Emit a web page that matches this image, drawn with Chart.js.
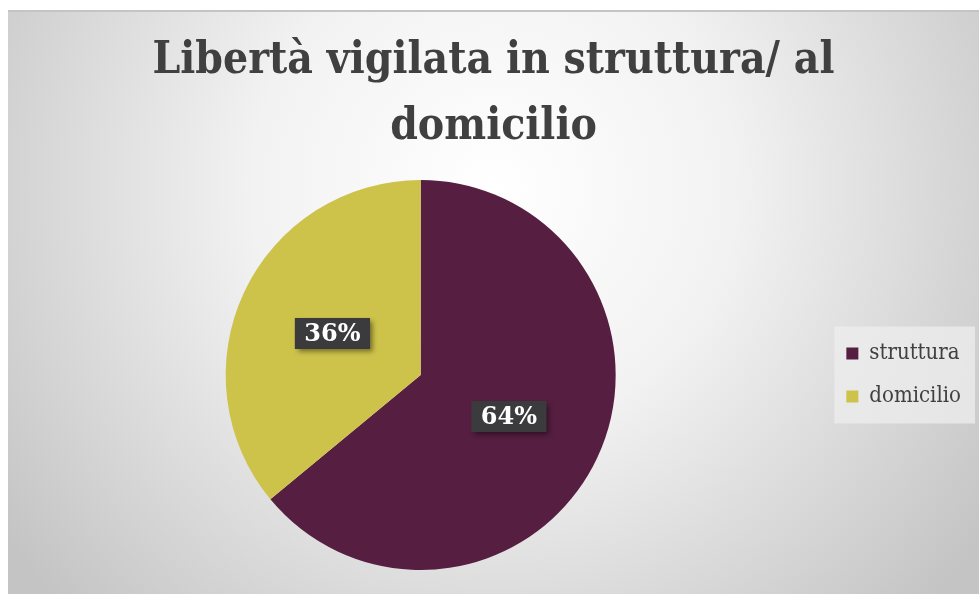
<!DOCTYPE html>
<html lang="it">
<head>
  <meta charset="UTF-8" />
  <title>Libertà vigilata in struttura/ al domicilio</title>
  <script src="https://cdn.jsdelivr.net/npm/chart.js"></script>
  <style>
    html, body { margin: 0; padding: 0; background: #fff; overflow: hidden; }
    #wrap { position: absolute; left: 8px; top: 10px; width: 971px; height: 582px; border-top: 2px solid #c4c4c4; }
  </style>
</head>
<body>
  <div id="wrap"><canvas id="pieChart"></canvas></div>

  <script>
    const labels = ["struttura", "domicilio"];
    const values = [64, 36];
    const colors = ["#561e40", "#cdc24a"];
    const titleLines = ["Libertà vigilata in struttura/ al", "domicilio"];

    const serif = "'DejaVu Serif Condensed', 'DejaVu Serif', serif";

    // radial grey background, like the office chart style
    const bgPlugin = {
      id: "bg",
      beforeDraw(chart) {
        const c = chart.ctx, w = chart.width, h = chart.height;
        const g = c.createRadialGradient(w * 0.5, h * 0.3, 0, w * 0.5, h * 0.3, w * 0.62);
        g.addColorStop(0, "#ffffff");
        g.addColorStop(0.4, "#f2f2f2");
        g.addColorStop(1, "#c4c4c4");
        c.save();
        c.fillStyle = g;
        c.fillRect(0, 0, w, h);
        const items = chart.legend && chart.legend.legendHitBoxes;
        if (items && items.length) {
          const first = items[0], last = items[items.length - 1];
          const x0 = first.left - 12, y0 = first.top - 16;
          c.fillStyle = "rgba(238,238,238,0.75)";
          c.fillRect(x0, y0, w - 4 - x0, last.top + last.height + 16 - y0);
        }
        c.restore();
      }
    };

    // percentage boxes on the slices
    const boxLabels = {
      id: "boxLabels",
      afterDatasetsDraw(chart) {
        const c = chart.ctx;
        const meta = chart.getDatasetMeta(0);
        const total = values.reduce((a, b) => a + b, 0);
        c.save();
        c.font = "bold 24px 'DejaVu Serif'";
        c.textAlign = "center";
        c.textBaseline = "middle";
        meta.data.forEach((arc, i) => {
          const p = arc.tooltipPosition();
          const txt = Math.round(values[i] / total * 100) + "%";
          const tw = c.measureText(txt).width;
          const bw = tw + 19, bh = 31;
          c.shadowColor = "rgba(0,0,0,0.45)";
          c.shadowOffsetX = 3;
          c.shadowOffsetY = 3;
          c.shadowBlur = 5;
          c.fillStyle = "#3b3b3d";
          c.fillRect(p.x - bw / 2, p.y - bh / 2, bw, bh);
          c.shadowColor = "transparent";
          c.fillStyle = "#ffffff";
          c.fillText(txt, p.x, p.y + 1);
        });
        c.restore();
      }
    };

    new Chart(document.getElementById("pieChart"), {
      type: "pie",
      data: {
        labels: labels,
        datasets: [{
          data: values,
          backgroundColor: colors,
          borderWidth: 0
        }]
      },
      options: {
        responsive: true,
        maintainAspectRatio: false,
        animation: false,
        layout: { padding: { top: 0, bottom: 24, left: 8, right: 8 } },
        plugins: {
          title: {
            display: true,
            text: titleLines,
            color: "#404040",
            font: { family: serif, size: 44, weight: "bold", lineHeight: 1.5 },
            padding: { top: 17, bottom: 19 }
          },
          legend: {
            position: "right",
            fullSize: false,
            labels: {
              color: "#404040",
              boxWidth: 12,
              boxHeight: 12,
              padding: 21,
              font: { family: serif, size: 22 }
            }
          },
          tooltip: { enabled: false }
        }
      },
      plugins: [bgPlugin, boxLabels]
    });
  </script>
</body>
</html>
